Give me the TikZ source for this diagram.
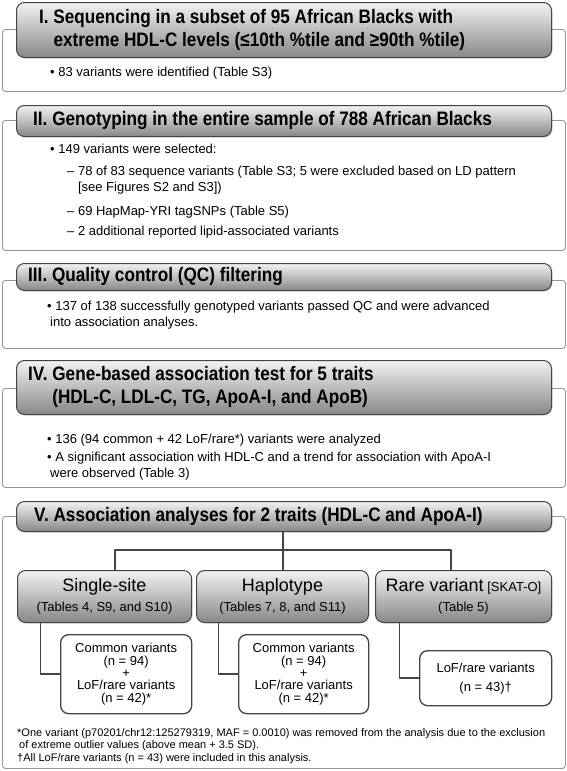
\documentclass[tikz,border=0pt]{standalone}
\usepackage{fontspec}
\setmainfont{Liberation Sans}
\newfontfamily\headfont{Liberation Sans}[FakeStretch=0.88]
\usetikzlibrary{positioning,shadows}
\definecolor{hdtop}{RGB}{242,242,242}
\definecolor{hdbot}{RGB}{135,135,135}
\definecolor{hdline}{RGB}{68,68,68}
\definecolor{boxline}{RGB}{150,150,150}
\begin{document}
\begin{tikzpicture}[x=1pt,y=-1pt,line join=round,line cap=round,
	outbox/.style={draw=boxline,line width=0.9pt,rounded corners=3pt,fill=white,anchor=north west,inner sep=0pt,minimum width=563pt},
	headbox/.style={draw=hdline,line width=1pt,rounded corners=8pt,top color=hdtop,bottom color=hdbot,anchor=north west,inner sep=0pt,
		drop shadow={opacity=0.25,shadow xshift=1pt,shadow yshift=-1pt}},
	headtxt/.style={anchor=west,align=left,inner sep=0pt,font=\headfont\fontsize{19.5}{23}\selectfont\bfseries},
	bodytxt/.style={anchor=west,align=left,inner sep=0pt,font=\fontsize{13}{16}\selectfont},
	subhead/.style={headbox,align=center,minimum height=52pt,font=\fontsize{13}{20}\selectfont},
	subbox/.style={draw=hdline,line width=1.3pt,rounded corners=8pt,fill=white,anchor=north west,inner sep=0pt,align=center,font=\fontsize{13}{12.3}\selectfont},
	link/.style={draw=hdline,line width=1.4pt}]
	\useasboundingbox (0,0) rectangle (567,771);
	% outer boxes
	\foreach \nm/\y/\h in {oI/29/62,oII/120/130,oIII/280/68,oIV/388/99,oV/516/252}{
		\node[outbox,minimum height=\h pt] (\nm) at (2,\y) {};
	}
	% step headers
	\foreach \nm/\y/\h in {hI/2/55,hII/105/31,hIII/263/27,hIV/360/54,hV/501/30}{
		\node[headbox,minimum width=535pt,minimum height=\h pt] (\nm) at (16,\y) {};
	}
	\node[headtxt] (tI) at (39,29.5) {I. Sequencing in a subset of 95 African Blacks with\\\phantom{I. }extreme HDL-C levels (≤10th \%tile and ≥90th \%tile)};
	\node[headtxt] (tII) at (33,120.5) {II. Genotyping in the entire sample of 788 African Blacks};
	\node[headtxt] (tIII) at (28,276.5) {III. Quality control (QC) filtering};
	\node[headtxt] (tIV) at (28,387) {IV. Gene-based association test for 5 traits\\\phantom{IV. }(HDL-C, LDL-C, TG, ApoA-I, and ApoB)};
	\node[headtxt] (tV) at (34,516) {V. Association analyses for 2 traits (HDL-C and ApoA-I)};
	% bullet texts
	\node[bodytxt] (bI) at (50,73) {\textbullet\ 83 variants were identified (Table S3)};
	\node[bodytxt] (bIIa) at (50,149) {\textbullet\ 149 variants were selected:};
	\node[bodytxt] (bIIb) at (67,180) {– 78 of 83 sequence variants (Table S3; 5 were excluded based on LD pattern\\\phantom{– }[see Figures S2 and S3])};
	\node[bodytxt] (bIIc) at (67,212) {– 69 HapMap-YRI tagSNPs (Table S5)};
	\node[bodytxt] (bIId) at (67,232) {– 2 additional reported lipid-associated variants};
	\node[bodytxt] (bIII) at (47,315.5) {\textbullet\ 137 of 138 successfully genotyped variants passed QC and were advanced\\\hspace{3pt}into association analyses.};
	\node[bodytxt] (bIVa) at (47,440) {\textbullet\ 136 (94 common + 42 LoF/rare*) variants were analyzed};
	\node[bodytxt] (bIVb) at (47,466) {\textbullet\ A significant association with HDL-C and a trend for association with ApoA-I\\\hspace{3pt}were observed (Table 3)};
	% analyses
	\node[subhead,minimum width=174pt] (single) at (17,570) {{\fontsize{18}{20}\selectfont Single-site}\\(Tables 4, S9, and S10)};
	\node[subhead,minimum width=172pt] (haplo) at (196,570) {{\fontsize{18}{20}\selectfont Haplotype}\\(Tables 7, 8, and S11)};
	\node[subhead,minimum width=176pt] (rare) at (375,570) {{\fontsize{18}{20}\selectfont Rare variant} [SKAT-O]\\(Table 5)};
	\node[subbox,minimum width=131pt,minimum height=79pt] (cmnA) at (60,634) {Common variants\\(n = 94)\\+\\LoF/rare variants\\(n = 42)*};
	\node[subbox,minimum width=130pt,minimum height=79pt] (cmnB) at (238,634) {Common variants\\(n = 94)\\+\\LoF/rare variants\\(n = 42)*};
	\node[subbox,minimum width=132pt,minimum height=55pt,font=\fontsize{13}{19}\selectfont] (lof) at (419,650) {LoF/rare variants\\(n = 43)†};
	\path (283,550) coordinate (split) (115,550) coordinate (dropL) (451,550) coordinate (dropR);
	\draw[link] (hV.south-|split) -- (split);
	\draw[link] (dropL|-single.north) -- (dropL) -- (dropR) -- (dropR|-rare.north);
	\draw[link] (split) -- (split|-haplo.north);
	\foreach \a/\b in {single/cmnA,haplo/cmnB,rare/lof}{
		\draw[link] ([xshift=-64pt]\a.south) |- (\b.west);
	}
	\node[anchor=north west,align=left,inner sep=0pt,font=\fontsize{11}{12.6}\selectfont] (notes) at (17,728)
		{*One variant (p70201/chr12:125279319, MAF = 0.0010) was removed from the analysis due to the exclusion\\
		\hspace{2pt}of extreme outlier values (above mean + 3.5 SD).\\
		†All LoF/rare variants (n = 43) were included in this analysis.};
\end{tikzpicture}
\end{document}
